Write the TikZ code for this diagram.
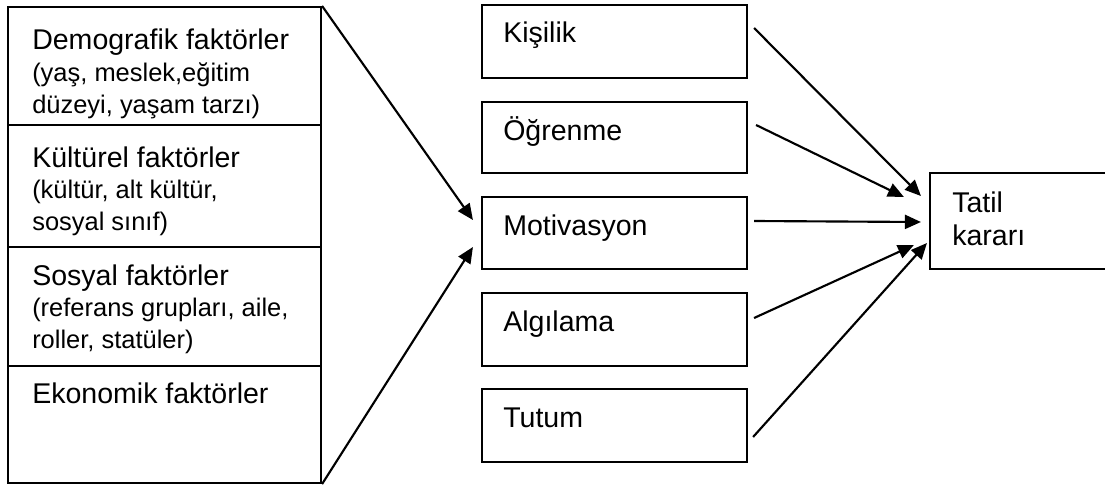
\documentclass[tikz,border=0pt]{standalone}
\usepackage{fontspec}
\setmainfont{Liberation Sans}
\usetikzlibrary{fit,calc,arrows.meta}
\newcommand{\headfont}{\fontsize{21.4pt}{24.75pt}\selectfont}
\newcommand{\notefont}{\fontsize{19.1pt}{23.6pt}\selectfont}
\begin{document}
\begin{tikzpicture}[x=0.75pt,y=-0.75pt,
  box/.style={draw,line width=1.6pt,inner sep=0pt,rectangle},
  head/.style={anchor=base west,inner sep=0pt,font=\headfont,align=left},
  note/.style={anchor=base west,inner sep=0pt,font=\notefont,align=left},
  arr/.style={line width=1.6pt,-{Triangle[length=12pt,width=10.5pt]}}]
\useasboundingbox (0,0) rectangle (1105,485);

% factor column on the left
\node[box,fit={(8,7)(321,125)}] (demo) {};
\node[box,fit={(8,125)(321,247)}] (kult) {};
\node[box,fit={(8,247)(321,366)}] (sos) {};
\node[box,fit={(8,366)(321,483)}] (eko) {};

% multi-line labels are placed by the baseline of their last line
\node[head] (demoT) at (32,50) {Demografik faktörler};
\node[note] (demoN) at (32,113) {(yaş, meslek,eğitim\\düzeyi, yaşam tarzı)};
\node[head] (kultT) at (32,167) {Kültürel faktörler};
\node[note] (kultN) at (32,230) {(kültür, alt kültür,\\sosyal sınıf)};
\node[head] (sosT) at (32,285) {Sosyal faktörler};
\node[note] (sosN) at (32,348) {(referans grupları, aile,\\roller, statüler)};
\node[head] (ekoT) at (32,403) {Ekonomik faktörler};

% psychological factors in the middle
\node[box,fit={(482,5)(747,78)}] (kis) {};
\node[box,fit={(482,102)(747,173)}] (ogr) {};
\node[box,fit={(482,197)(747,269)}] (mot) {};
\node[box,fit={(482,293)(747,366)}] (alg) {};
\node[box,fit={(482,389)(747,462)}] (tut) {};

\node[head] (kisT) at (503,43) {Kişilik};
\node[head] (ogrT) at (503,140) {Öğrenme};
\node[head] (motT) at (503,235) {Motivasyon};
\node[head] (algT) at (503,331) {Algılama};
\node[head] (tutT) at (503,427) {Tutum};

% decision box, running off the right edge
\node[box,fit={(930,173)(1125,269)}] (tatil) {};
\node[head] (tatilT) at (952,245) {Tatil\\kararı};

% connectors
\draw[arr] (demo.north east) -- ($(mot.west)+(-8,-13)$);
\draw[arr] (eko.south east) -- ($(mot.west)+(-8,14)$);

\draw[arr] ($(kis.east)+(6,-13.5)$) -- ($(tatil.west)+(-8,-25)$);
\draw[arr] ($(ogr.east)+(8,-12.5)$) -- ($(tatil.west)+(-25,-24)$);
\draw[arr] ($(mot.east)+(6,-12)$) -- ($(tatil.west)+(-8,1)$);
\draw[arr] ($(alg.east)+(6,-11.5)$) -- ($(tatil.west)+(-15,24)$);
\draw[arr] ($(tut.east)+(5,11.5)$) -- ($(tatil.west)+(-2,22)$);
\end{tikzpicture}
\end{document}
